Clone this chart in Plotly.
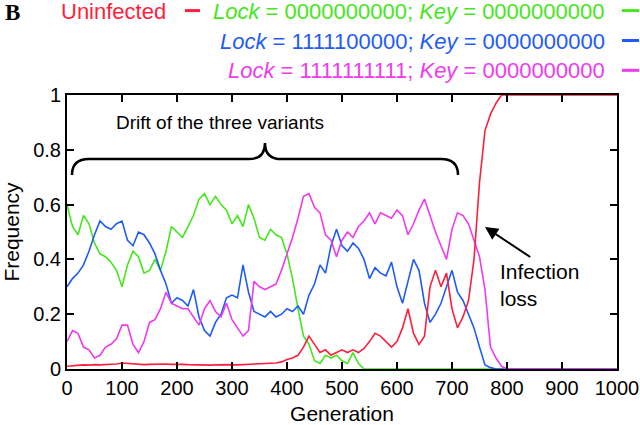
import plotly.graph_objects as go

# generation grid (every 10 generations)
generation = list(range(0, 1001, 10))

uninfected = [0.010, 0.012, 0.014, 0.015, 0.014, 0.016, 0.015, 0.016, 0.017, 0.018,
              0.022, 0.020, 0.018, 0.017, 0.016, 0.017, 0.018, 0.019, 0.018, 0.017,
              0.018, 0.017, 0.016, 0.015, 0.016, 0.015, 0.014, 0.015, 0.016, 0.017,
              0.016, 0.015, 0.016, 0.017, 0.018, 0.017, 0.018, 0.020, 0.022, 0.026,
              0.035, 0.040, 0.050, 0.080, 0.120, 0.090, 0.060, 0.070, 0.050, 0.060,
              0.070, 0.060, 0.070, 0.060, 0.075, 0.100, 0.130, 0.120, 0.100, 0.080,
              0.100, 0.150, 0.220, 0.130, 0.090, 0.120, 0.300, 0.360, 0.300, 0.350,
              0.220, 0.150, 0.190, 0.250, 0.400, 0.680, 0.870, 0.930, 0.970, 1.000,
              1.0, 1.0, 1.0, 1.0, 1.0, 1.0, 1.0, 1.0, 1.0, 1.0,
              1.0, 1.0, 1.0, 1.0, 1.0, 1.0, 1.0, 1.0, 1.0, 1.0, 1.0]

lock0 = [0.60, 0.52, 0.49, 0.56, 0.53, 0.46, 0.42, 0.41, 0.39, 0.36,
         0.30, 0.38, 0.43, 0.41, 0.35, 0.36, 0.40, 0.36, 0.43, 0.52,
         0.50, 0.48, 0.52, 0.56, 0.62, 0.64, 0.60, 0.63, 0.60, 0.58,
         0.53, 0.56, 0.52, 0.60, 0.55, 0.48, 0.47, 0.51, 0.49, 0.48,
         0.42, 0.33, 0.22, 0.12, 0.09, 0.03, 0.02, 0.05, 0.04, 0.05,
         0.03, 0.02, 0.06, 0.02, 0.0, 0.0, 0.0, 0.0, 0.0, 0.0,
         0.0, 0.0, 0.0, 0.0, 0.0, 0.0, 0.0, 0.0, 0.0, 0.0,
         0.0, 0.0, 0.0, 0.0, 0.0, 0.0, 0.0, 0.0, 0.0, 0.0,
         0.0, 0.0, 0.0, 0.0, 0.0, 0.0, 0.0, 0.0, 0.0, 0.0,
         0.0, 0.0, 0.0, 0.0, 0.0, 0.0, 0.0, 0.0, 0.0, 0.0, 0.0]

lock5 = [0.30, 0.33, 0.35, 0.38, 0.43, 0.49, 0.54, 0.52, 0.51, 0.53,
         0.54, 0.47, 0.45, 0.50, 0.49, 0.46, 0.42, 0.36, 0.31, 0.24,
         0.26, 0.25, 0.23, 0.29, 0.19, 0.14, 0.12, 0.17, 0.20, 0.26,
         0.27, 0.26, 0.38, 0.28, 0.21, 0.20, 0.19, 0.21, 0.19, 0.20,
         0.22, 0.21, 0.23, 0.20, 0.27, 0.31, 0.38, 0.35, 0.45, 0.51,
         0.45, 0.43, 0.46, 0.44, 0.40, 0.33, 0.37, 0.35, 0.34, 0.39,
         0.30, 0.24, 0.32, 0.40, 0.36, 0.24, 0.17, 0.20, 0.24, 0.30,
         0.36, 0.28, 0.25, 0.20, 0.15, 0.08, 0.015, 0.005, 0.0, 0.0,
         0.0, 0.0, 0.0, 0.0, 0.0, 0.0, 0.0, 0.0, 0.0, 0.0,
         0.0, 0.0, 0.0, 0.0, 0.0, 0.0, 0.0, 0.0, 0.0, 0.0, 0.0]

lock10 = [0.10, 0.14, 0.13, 0.08, 0.07, 0.04, 0.05, 0.08, 0.09, 0.11,
          0.16, 0.16, 0.09, 0.06, 0.10, 0.17, 0.18, 0.22, 0.28, 0.24,
          0.23, 0.22, 0.22, 0.19, 0.16, 0.22, 0.25, 0.21, 0.19, 0.24,
          0.18, 0.15, 0.12, 0.14, 0.32, 0.30, 0.29, 0.30, 0.31, 0.36,
          0.42, 0.48, 0.55, 0.63, 0.64, 0.59, 0.57, 0.49, 0.47, 0.41,
          0.47, 0.50, 0.48, 0.52, 0.54, 0.57, 0.53, 0.57, 0.56, 0.55,
          0.58, 0.56, 0.49, 0.53, 0.58, 0.62, 0.56, 0.50, 0.45, 0.40,
          0.51, 0.57, 0.56, 0.53, 0.47, 0.41, 0.29, 0.08, 0.04, 0.01,
          0.0, 0.0, 0.0, 0.0, 0.0, 0.0, 0.0, 0.0, 0.0, 0.0,
          0.0, 0.0, 0.0, 0.0, 0.0, 0.0, 0.0, 0.0, 0.0, 0.0, 0.0]

red = "#ff1f3d"
green = "#45e61c"
blue = "#1f5cf5"
magenta = "#ee3ced"
font = "Liberation Sans, Arial, sans-serif"

fig = go.Figure()
fig.add_trace(go.Scatter(x=generation, y=lock0, mode="lines", line=dict(color=green, width=1.6)))
fig.add_trace(go.Scatter(x=generation, y=lock5, mode="lines", line=dict(color=blue, width=1.6)))
fig.add_trace(go.Scatter(x=generation, y=lock10, mode="lines", line=dict(color=magenta, width=1.6)))
fig.add_trace(go.Scatter(x=generation, y=uninfected, mode="lines", line=dict(color=red, width=1.6)))

# curly brace over the drift region
fig.add_shape(type="path", xref="x", yref="y",
              path="M 9,0.708 Q 9,0.766 40,0.766 L 330,0.766 Q 360,0.766 360,0.825 "
                   "Q 360,0.766 390,0.766 L 680,0.766 Q 711,0.766 711,0.708",
              line=dict(color="black", width=2.5))

fig.add_annotation(x=278, y=0.90, xref="x", yref="y", text="Drift of the three variants",
                   showarrow=False, font=dict(size=19, color="black", family=font))

fig.add_annotation(x=760, y=0.518, ax=845, ay=0.405, xref="x", yref="y", axref="x", ayref="y",
                   showarrow=True, arrowhead=2, arrowsize=1.3, arrowwidth=2, arrowcolor="black",
                   text="")
fig.add_annotation(x=783, y=0.305, xref="x", yref="y", xanchor="left",
                   text="Infection<br>loss", align="left", showarrow=False,
                   font=dict(size=21, color="black", family=font))

# legend rows written as text
rows = [("Uninfected", red, 0.1836, 1.305),
        ("<i>Lock</i> = 0000000000; <i>Key</i> = 0000000000", green, 0.982, 1.305),
        ("<i>Lock</i> = 1111100000; <i>Key</i> = 0000000000", blue, 0.982, 1.197),
        ("<i>Lock</i> = 1111111111; <i>Key</i> = 0000000000", magenta, 0.982, 1.088)]
for txt, col, xr, yr in rows:
    fig.add_annotation(x=xr, y=yr, xref="paper", yref="paper", xanchor="right", yanchor="middle",
                       text=txt, showarrow=False, font=dict(size=22, color=col, family=font))

dashes = [(0.2145, 0.2418, 1.308, red), (1.009, 1.040, 1.308, green),
          (1.009, 1.040, 1.199, blue), (1.009, 1.040, 1.090, magenta)]
for x0, x1, yy, col in dashes:
    fig.add_shape(type="line", xref="paper", yref="paper", x0=x0, x1=x1, y0=yy, y1=yy,
                  line=dict(color=col, width=3))

fig.add_annotation(x=-0.1164, y=1.302, xref="paper", yref="paper", xanchor="left", yanchor="middle",
                   text="<b>B</b>", showarrow=False,
                   font=dict(size=23, color="black", family="Liberation Serif, Times New Roman, serif"))

fig.update_layout(
    width=640, height=425,
    margin=dict(l=67, r=23, t=95, b=56),
    paper_bgcolor="white", plot_bgcolor="white",
    showlegend=False,
    font=dict(family=font, size=20, color="black"),
)
fig.update_xaxes(range=[0, 1000], tickvals=[0, 100, 200, 300, 400, 500, 600, 700, 800, 900, 1000],
                 ticks="inside", ticklen=7, tickwidth=1.5, tickcolor="black",
                 showline=True, linewidth=2, linecolor="black", mirror="ticks",
                 showgrid=False, zeroline=False, automargin=False,
                 title=dict(text="Generation", font=dict(size=21), standoff=14))
fig.update_yaxes(range=[0, 1], tickvals=[0, 0.2, 0.4, 0.6, 0.8, 1],
                 ticktext=["0", "0.2", "0.4", "0.6", "0.8", "1"],
                 ticks="inside", ticklen=7, tickwidth=1.5, tickcolor="black",
                 showline=True, linewidth=2, linecolor="black", mirror="ticks",
                 showgrid=False, zeroline=False, automargin=False,
                 title=dict(text="Frequency", font=dict(size=21), standoff=10))

# drop the page's default body margin so the figure sits at the window's corner
fig.write_html("out.html", config={"displayModeBar": False},
               post_script="document.body.style.margin = '0';")
